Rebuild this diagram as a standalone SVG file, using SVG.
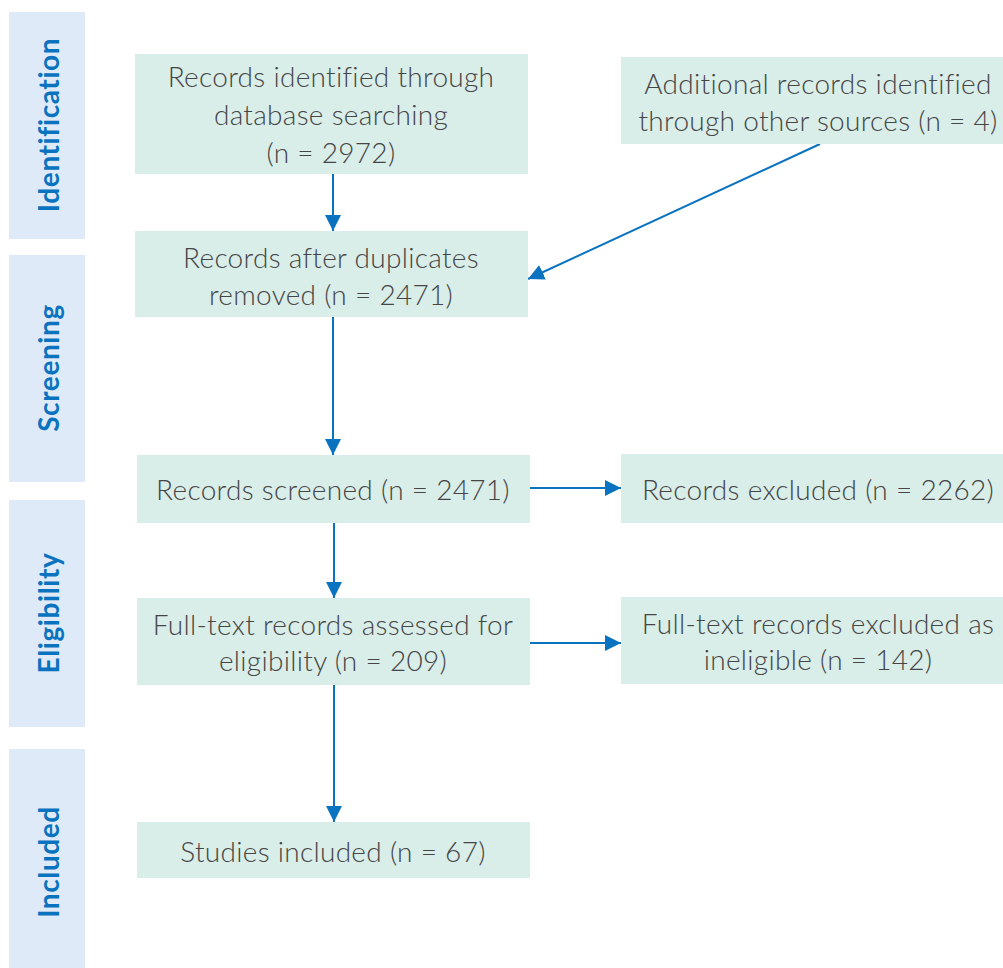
<svg xmlns="http://www.w3.org/2000/svg" width="1003" height="968" viewBox="0 0 1003 968">
<style>
.bar{fill:#deeaf7}
.box{fill:#d9ede9}
.lbl{font-family:Lato,"Open Sans",sans-serif;font-weight:700;font-size:28px;letter-spacing:0.6px;fill:#0a73c0;text-anchor:middle}
.t{font-family:Lato,"Open Sans",sans-serif;font-weight:300;font-size:28px;letter-spacing:0.3px;fill:#454545;text-anchor:middle}
.c{stroke:#0a73c0;stroke-width:2;fill:none;marker-end:url(#ah)}
</style>
<defs>
<marker id="ah" viewBox="0 0 10 10" refX="10" refY="5" markerWidth="16" markerHeight="16" markerUnits="userSpaceOnUse" orient="auto">
<path d="M0,0 L10,5 L0,10 z" fill="#0a73c0"/>
</marker>
</defs>
<rect width="1003" height="968" fill="#fff"/>
<g id="phase-identification"><rect class="bar" x="9" y="12" width="76" height="227"/><text class="lbl" transform="translate(59,125) rotate(-90)">Identification</text></g>
<g id="phase-screening"><rect class="bar" x="9" y="255" width="76" height="227"/><text class="lbl" transform="translate(59,368) rotate(-90)">Screening</text></g>
<g id="phase-eligibility"><rect class="bar" x="9" y="500" width="76" height="227"/><text class="lbl" transform="translate(59,613) rotate(-90)">Eligibility</text></g>
<g id="phase-included"><rect class="bar" x="9" y="749" width="76" height="219"/><text class="lbl" transform="translate(59,862) rotate(-90)">Included</text></g>

<g id="connectors">
<line class="c" x1="333" y1="174" x2="333" y2="231"/>
<line class="c" x1="333" y1="317" x2="333" y2="455"/>
<line class="c" x1="334" y1="523" x2="334" y2="598"/>
<line class="c" x1="334" y1="685" x2="334" y2="822"/>
<line class="c" x1="530" y1="488" x2="621" y2="488"/>
<line class="c" x1="530" y1="643" x2="621" y2="643"/>
<line class="c" x1="820" y1="144" x2="528" y2="279"/>
</g>

<g id="n-database"><rect class="box" x="135" y="54" width="393" height="120"/>
<text class="t" x="331" y="87">Records identified through</text>
<text class="t" x="331" y="125">database searching</text>
<text class="t" x="331" y="163">(n = 2972)</text></g>
<g id="n-other"><rect class="box" x="621" y="57" width="382" height="87"/>
<text class="t" x="818" y="94">Additional records identified</text>
<text class="t" x="818" y="131">through other sources (n = 4)</text></g>
<g id="n-dedup"><rect class="box" x="135" y="231" width="393" height="86"/>
<text class="t" x="331" y="268">Records after duplicates</text>
<text class="t" x="331" y="305">removed (n = 2471)</text></g>
<g id="n-screened"><rect class="box" x="137" y="455" width="393" height="68"/>
<text class="t" x="333" y="500">Records screened (n = 2471)</text></g>
<g id="n-excluded"><rect class="box" x="621" y="454" width="382" height="69"/>
<text class="t" x="818" y="500">Records excluded (n = 2262)</text></g>
<g id="n-fulltext"><rect class="box" x="137" y="598" width="393" height="87"/>
<text class="t" x="333" y="635">Full-text records assessed for</text>
<text class="t" x="333" y="671">eligibility (n = 209)</text></g>
<g id="n-ineligible"><rect class="box" x="621" y="597" width="382" height="87"/>
<text class="t" x="818" y="634">Full-text records excluded as</text>
<text class="t" x="818" y="670">ineligible (n = 142)</text></g>
<g id="n-included"><rect class="box" x="137" y="822" width="393" height="56"/>
<text class="t" x="333" y="862">Studies included (n = 67)</text></g>
</svg>
